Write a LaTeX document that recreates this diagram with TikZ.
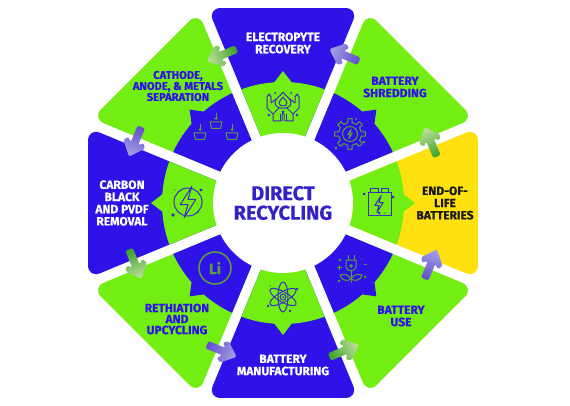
\documentclass[tikz,border=0pt]{standalone}
\usepackage{fontspec}
\setmainfont{Fira Sans}[BoldFeatures={FakeBold=0.35}]

\definecolor{wheelblue}{HTML}{2E12E8}
\definecolor{wheelgreen}{HTML}{72EE12}
\definecolor{wheelyellow}{HTML}{FFE110}
\definecolor{titleblue}{HTML}{3422C6}
\definecolor{iconblue}{HTML}{3B2CC4}
\definecolor{icongreen}{HTML}{5E9E3A}
\definecolor{arrowgreen}{HTML}{3FA52C}
\definecolor{arrowgreenlight}{HTML}{BBDD98}
\definecolor{arrowblue}{HTML}{6650CF}
\definecolor{arrowbluelight}{HTML}{A09EE2}

\tikzset{
	steplabel/.style={font=\bfseries\fontsize{12}{12.2}\selectfont, align=center, inner sep=0pt},
	iconline/.style={line width=1pt, line join=round, fill=none},
}
\newcommand{\wedgepath}[1]{(#1:13) -- (#1-21.1:209) -- (#1+21.1:209) -- cycle}
\newcommand{\boltpath}{(1.5,-6) -- (-3,1) -- (0,1) -- (-1.5,6) -- (3,-1) -- (0,-1) -- cycle}

\begin{document}
\begin{tikzpicture}[x=1pt, y=-1pt]
	\useasboundingbox (0,0) rectangle (570,406);

	% Sektoren
	\begin{scope}[shift={(283,203)}]
		\foreach \ang/\outercol/\innercol in {
			0/wheelyellow/wheelgreen, -45/wheelgreen/wheelblue,
			-90/wheelblue/wheelgreen, -135/wheelgreen/wheelblue,
			180/wheelblue/wheelgreen, 135/wheelgreen/wheelblue,
			90/wheelblue/wheelgreen, 45/wheelgreen/wheelblue} {
			\fill[\outercol, rounded corners=13pt] \wedgepath{\ang};
			\begin{scope}
				\clip[rounded corners=13pt] \wedgepath{\ang};
				\fill[\innercol] (0,0) circle (121);
				\fill[\innercol] (\ang-4.5:120) -- (\ang:132) -- (\ang+4.5:120) -- cycle;
			\end{scope}
		}
		\fill[white] (0,0) circle (70);

		% Pfeile
		\foreach \i/\tailcol/\headcol in {
			0/arrowgreen/arrowgreenlight, 1/arrowblue/arrowbluelight,
			2/arrowgreen/arrowgreenlight, 3/arrowblue/arrowbluelight,
			4/arrowgreen/arrowgreenlight, 5/arrowblue/arrowbluelight,
			6/arrowgreen/arrowgreenlight, 7/arrowblue/arrowbluelight} {
			\pgfmathsetmacro{\shadeang}{22.5+45*\i}
			\shade[shift={(-22.5-45*\i:160)}, rotate=112.5+45*\i, top color=\headcol, bottom color=\tailcol, shading angle=\shadeang, rounded corners=1.5pt]
				(-16,-4) -- (2,-4) -- (-2,-8.5) -- (3,-11.5) -- (16,0) -- (3,11.5) -- (-2,8.5) -- (2,4) -- (-16,4) -- cycle;
		}
	\end{scope}

	% Texte
	\node[font=\bfseries\fontsize{20}{19.5}\selectfont, text=titleblue, align=center, inner sep=0pt] (title) at (283,203) {DIRECT\\RECYCLING};
	\node[steplabel, text=black!90] (endoflife) at (445,203) {END-OF-\\LIFE\\BATTERIES};
	\node[steplabel, text=wheelblue] (shredding) at (395,87) {BATTERY\\SHREDDING};
	\node[steplabel, text=white] (electrolyte) at (283,43) {ELECTROPYTE\\RECOVERY};
	\node[steplabel, text=wheelblue, font=\bfseries\fontsize{11.2}{11}\selectfont] (separation) at (178,86) {CATHODE,\\ANODE, \& METALS\\SEPARATION};
	\node[steplabel, text=white] (carbon) at (122,203) {CARBON\\BLACK\\AND PVDF\\REMOVAL};
	\node[steplabel, text=wheelblue, font=\bfseries\fontsize{12}{11}\selectfont] (rethiation) at (177,319) {RETHIATION\\AND\\UPCYCLING};
	\node[steplabel, text=white] (manufacturing) at (283,365) {BATTERY\\MANUFACTURING};
	\node[steplabel, text=wheelblue] (use) at (401,316) {BATTERY\\USE};

	% Batterie
	\begin{scope}[shift={(379,204)}, iconline, draw=iconblue]
		\draw (-11,-11) rectangle (12,12);
		\draw (-9,-11) -- (-9,-15) -- (-1,-15) -- (-1,-11) (2,-11) -- (2,-15) -- (9,-15) -- (9,-11);
		\draw[scale=1.4] \boltpath;
		\fill[iconblue] (-15,-10) circle (1.5) (14,-7) circle (1.7) (0,9) circle (1.5) (6,9) circle (0.6) (12,9) circle (0.6);
	\end{scope}

	% Zahnrad
	\begin{scope}[shift={(350,134)}, iconline, draw=icongreen]
		\foreach \a in {0,45,...,315} {
			\draw (\a-11:11.5) -- (\a-8:15.5) -- (\a+8:15.5) -- (\a+11:11.5) -- (\a+34:11.5);
		}
		\draw (0,0) circle (7.5);
		\draw[scale=0.75] \boltpath;
		\fill[icongreen] (-14,14) circle (1.4) (14,8) circle (1.4) (-9,-14) circle (0.7) (6,-15) circle (1);
	\end{scope}

	% Haende mit Tropfen
	\begin{scope}[shift={(283,106)}, iconline, draw=iconblue]
		\foreach \s in {-1,1} {
			\begin{scope}[xscale=\s]
				\draw (1,15) -- (1,8) -- (-1,5) (2,15) -- (10,15) -- (10,8) -- (16,2) -- (16,-9) -- (14,-12) -- (12,-9) -- (12,-3);
				\draw (10,8) -- (4,2) (12,-3) -- (7,-7);
				\draw (3,8) -- (3,15);
				\fill[iconblue] (14,9) circle (1.4) (8,-13) circle (1);
			\end{scope}
		}
		\draw (0,-14) .. controls (3,-9) and (8,-8) .. (8,-3) .. controls (8,4) and (-8,4) .. (-8,-3) .. controls (-8,-8) and (-3,-9) .. (0,-14);
		\draw (0,-9) .. controls (2,-6) and (4,-5) .. (4,-3) .. controls (4,1) and (-4,1) .. (-4,-3) .. controls (-4,-5) and (-2,-6) .. (0,-9);
	\end{scope}

	% Behaelter
	\foreach \bx/\by in {200/136, 216/125, 232/136} {
		\begin{scope}[shift={(\bx,\by)}, iconline, draw=icongreen]
			\draw (-6,-3) -- (6,-3) -- (4.5,3.5) -- (-4.5,3.5) -- cycle;
			\draw (0,-12) -- (0,-6);
			\fill[icongreen] (-2,-7) -- (2,-7) -- (0,-5) -- cycle;
		\end{scope}
	}

	% Blitz im Kreis
	\begin{scope}[shift={(188,202)}, iconline, draw=iconblue]
		\draw (0,0) circle (14);
		\draw[scale=2.6] \boltpath;
		\fill[iconblue] (13,-12) circle (1.6) (-15,13) circle (1.9) (-13,-12) circle (0.7) (10,10) circle (0.9);
	\end{scope}

	% Li
	\node[circle, draw=icongreen, line width=1.5pt, minimum size=32pt, inner sep=0pt, text=icongreen, font=\bfseries\fontsize{15}{15}\selectfont] (lithium) at (215,268) {Li};

	% Atom
	\begin{scope}[shift={(283,297)}, iconline, draw=iconblue]
		\draw (0,0) circle [x radius=5, y radius=15];
		\draw[rotate=60] (0,0) circle [x radius=5, y radius=15];
		\draw[rotate=-60] (0,0) circle [x radius=5, y radius=15];
		\draw (0,0) circle (3);
		\fill[iconblue] (0,0) circle (1) (-15,9) circle (1.4) (14,-8) circle (1.4) (7,14) circle (1.4) (-13,-11) circle (0.7);
	\end{scope}

	% Stecker
	\begin{scope}[shift={(351,270)}, iconline, draw=icongreen]
		\draw (-5,-10) -- (5,-10) -- (5,-3) .. controls (5,2) and (-5,2) .. (-5,-3) -- cycle;
		\draw (-3,-10) -- (-3,-15) (3,-10) -- (3,-15);
		\draw (0,1) -- (0,13);
		\draw (0,-4) circle (1.3);
		\draw (0,9) .. controls (-2,4) and (-8,4) .. (-11,5) .. controls (-10,10) and (-4,12) .. (0,9);
		\draw (0,9) .. controls (2,4) and (8,4) .. (11,5) .. controls (10,10) and (4,12) .. (0,9);
		\draw (-14,-3) -- (-9,-3) (-11.5,-5.5) -- (-11.5,-0.5) (13,-6) -- (16,-6);
		\fill[icongreen] (-12,11) circle (1.4) (14,7) circle (1.4) (-11,-10) circle (1.4) (11,-11) circle (0.6);
	\end{scope}
\end{tikzpicture}
\end{document}
